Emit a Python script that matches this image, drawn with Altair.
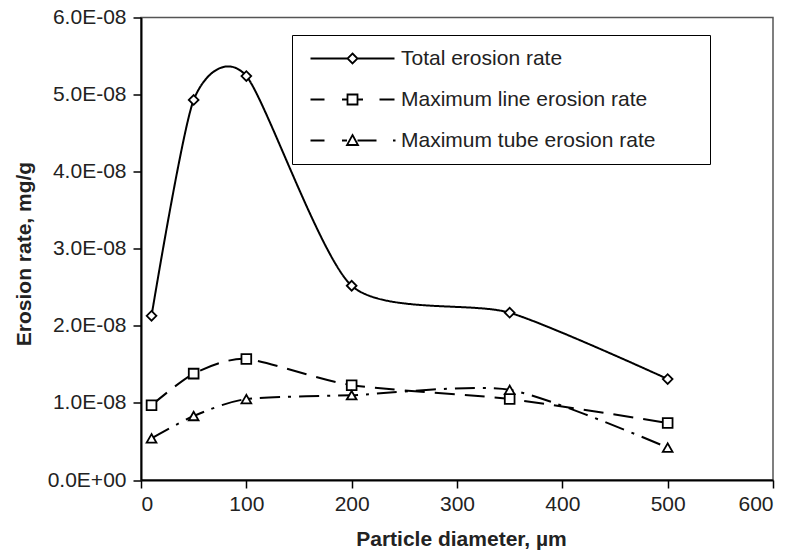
import altair as alt
import pandas as pd

# ---- data ----
diameters = [10, 50, 100, 200, 350, 500]
total_rate = [2.13e-8, 4.93e-8, 5.24e-8, 2.52e-8, 2.17e-8, 1.31e-8]
line_rate = [0.97e-8, 1.38e-8, 1.57e-8, 1.23e-8, 1.05e-8, 0.74e-8]
tube_rate = [0.54e-8, 0.83e-8, 1.05e-8, 1.10e-8, 1.17e-8, 0.42e-8]
series_names = ["Total erosion rate", "Maximum line erosion rate", "Maximum tube erosion rate"]
x_ticks = [0, 100, 200, 300, 400, 500, 600]
y_ticks = [0, 1e-8, 2e-8, 3e-8, 4e-8, 5e-8, 6e-8]

rows = []
for name, vals in zip(series_names, [total_rate, line_rate, tube_rate]):
    for d, v in zip(diameters, vals):
        rows.append({"series": name, "d": d, "rate": v})
df = pd.DataFrame(rows)

FONT = "Liberation Sans"

x_enc = alt.X(
    "d:Q",
    scale=alt.Scale(domain=[0, 600], nice=False),
    axis=alt.Axis(
        values=x_ticks,
        title="Particle diameter, µm",
        labelPadding=5,
        titleX=320,
        titleY=65,
        titleBaseline="alphabetic",
    ),
)
y_enc = alt.Y(
    "rate:Q",
    scale=alt.Scale(domain=[0, 6e-8], nice=False),
    axis=alt.Axis(
        values=y_ticks,
        title="Erosion rate, mg/g",
        labelExpr="datum.value == 0 ? '0.0E+00' : format(datum.value * 1e8, '.1f') + 'E-08'",
        labelPadding=7,
        titleX=-111,
        titleY=236,
        titleBaseline="alphabetic",
    ),
)

lines = alt.Chart(df).mark_line(
    interpolate="cardinal", tension=0.3, color="black", strokeWidth=2
).encode(
    x=x_enc,
    y=y_enc,
    strokeDash=alt.StrokeDash(
        "series:N",
        scale=alt.Scale(domain=series_names, range=[[1, 0], [20, 10], [20, 8, 3, 8]]),
        legend=None,
    ),
)

points = alt.Chart(df).mark_point(
    fill="white", stroke="black", strokeWidth=1.8, opacity=1, size=95, filled=False
).encode(
    x=x_enc,
    y=y_enc,
    shape=alt.Shape(
        "series:N",
        scale=alt.Scale(domain=series_names, range=["diamond", "square", "triangle-up"]),
        legend=None,
    ),
)

legend_paths = [
    "M-8.4,0L-1,0M1,0L8.4,0M0,-1L1,0L0,1L-1,0Z",
    "M-8.4,0L-5.6,0M-2.1,0L-1,0M1,0L2.1,0M5.4,0L8.4,0M-1,-1L1,-1L1,1L-1,1Z",
    "M-8.4,0L-5.6,0M-2.1,0L-1.1,0M1,0L4.8,0M8.1,0L8.6,0M0,-1.1L1.1,0.9L-1.1,0.9Z",
]
pad = "\u00a0" * 7 + "\u200b"
legend_layer = alt.Chart(df).mark_point(color="black", filled=False).encode(
    shape=alt.Shape(
        "series:N",
        scale=alt.Scale(domain=series_names, range=legend_paths),
        legend=alt.Legend(
            title=None,
            orient="none",
            legendX=151,
            legendY=17.5,
            padding=13,
            strokeColor="black",
            fillColor="white",
            symbolSize=100,
            symbolStrokeWidth=1.8,
            symbolStrokeColor="black",
            symbolFillColor="white",
            symbolOpacity=1,
            symbolOffset=37,
            labelOffset=38,
            rowPadding=19,
            labelFont=FONT,
            labelFontSize=21,
            labelColor="#222222",
            labelLimit=600,
            labelExpr="datum.label + '" + pad + "'",
        ),
    ),
).transform_filter("false")

chart = alt.layer(lines, points, legend_layer).resolve_scale(
    shape="independent"
).properties(
    width=632,
    height=462.5,
    padding={"left": 141, "top": 17.5, "right": 25, "bottom": 73},
    autosize="none",
).configure_view(
    stroke="#555555", strokeWidth=1.5
).configure_axis(
    grid=False,
    domainColor="black",
    domainWidth=2,
    tickColor="black",
    tickWidth=1.5,
    tickSize=8,
    labelFont=FONT,
    labelFontSize=21,
    labelColor="#222222",
    titleFont=FONT,
    titleFontSize=21,
    titleFontWeight="bold",
    titleColor="#222222",
)

chart.save("out.html", embed_options={"renderer": "svg", "actions": False})
